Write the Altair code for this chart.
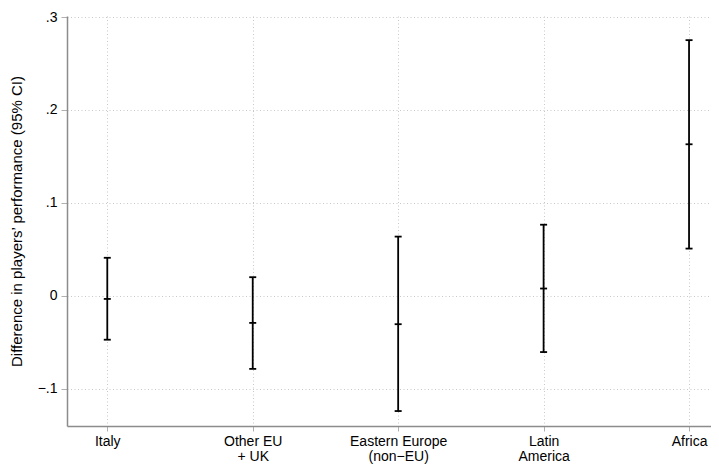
import altair as alt
import pandas as pd

# Data
regions = ["Italy", "Other EU + UK", "Eastern Europe (non-EU)", "Latin America", "Africa"]
region_label_lines = [["Italy"], ["Other EU", "+ UK"], ["Eastern Europe", "(non\u2212EU)"], ["Latin", "America"], ["Africa"]]
estimate = [-0.0035, -0.0293, -0.0307, 0.0077, 0.1630]
ci_low = [-0.0474, -0.0788, -0.1242, -0.0607, 0.0507]
ci_high = [0.0408, 0.0199, 0.0636, 0.0764, 0.2751]
y_tick_values = [-0.1, 0.0, 0.1, 0.2, 0.3]
y_tick_labels = ["\u2212.1", "0", ".1", ".2", ".3"]

pos = list(range(1, len(regions) + 1))
df = pd.DataFrame({"pos": pos, "region": regions, "est": estimate, "lo": ci_low, "hi": ci_high})

# label expressions
def arr(lines):
    return "[" + ",".join("'" + s + "'" for s in lines) + "]"

x_expr = "''"
for p, lines in reversed(list(zip(pos, region_label_lines))):
    x_expr = f"datum.value == {p} ? {arr(lines)} : ({x_expr})"

y_expr = "''"
for v, lab in reversed(list(zip(y_tick_values, y_tick_labels))):
    y_expr = f"round(datum.value*10) == {round(v*10)} ? '{lab}' : ({y_expr})"

FONT = "Liberation Sans"
xscale = alt.Scale(domain=[0.723, 5.151], nice=False, zero=False)
yscale = alt.Scale(domain=[-0.1403, 0.3011], nice=False, zero=False)

x_axis = alt.Axis(
    values=pos, labelExpr=x_expr, title=None, grid=True,
    gridDash=[1, 2.5], gridColor="#c8c8c8", gridWidth=1,
    tickSize=5, labelPadding=3, labelLineHeight=15,
    labelFontSize=14, labelFont=FONT, labelColor="#000",
    domainColor="#8c8c8c", tickColor="#b0b0b0", domainWidth=1.5,
)
y_axis = alt.Axis(
    values=y_tick_values, labelExpr=y_expr,
    title="Difference in players\u2019 performance (95% CI)",
    titleFont=FONT, titleFontSize=15, titleFontWeight="normal", titleColor="#000",
    titlePadding=13, grid=True, gridDash=[1, 2.5], gridColor="#c8c8c8", gridWidth=1,
    tickSize=6, labelPadding=4, labelFontSize=14, labelFont=FONT, labelColor="#000",
    domainColor="#8c8c8c", tickColor="#b0b0b0", domainWidth=1.5,
)

base = alt.Chart(df)

rules = base.mark_rule(color="#000", strokeWidth=1.8).encode(
    x=alt.X("pos:Q", scale=xscale, axis=x_axis),
    y=alt.Y("lo:Q", scale=yscale, axis=y_axis),
    y2="hi:Q",
)

cap_shape = "M-1,0L1,0"
def cap(field):
    return base.mark_point(shape=cap_shape, size=49, filled=False, color="#000",
                           strokeWidth=1.8, opacity=1).encode(
        x=alt.X("pos:Q", scale=xscale), y=alt.Y(f"{field}:Q", scale=yscale)
    )

chart = alt.layer(rules, cap("lo"), cap("hi"), cap("est")).properties(
    width=644, height=410,
    autosize=alt.AutoSizeParams(type="none"),
    padding={"left": 59, "top": 8, "right": 0, "bottom": 40},
).configure_view(stroke=None)

chart.save("out.html", embed_options={"renderer": "svg", "actions": False})
